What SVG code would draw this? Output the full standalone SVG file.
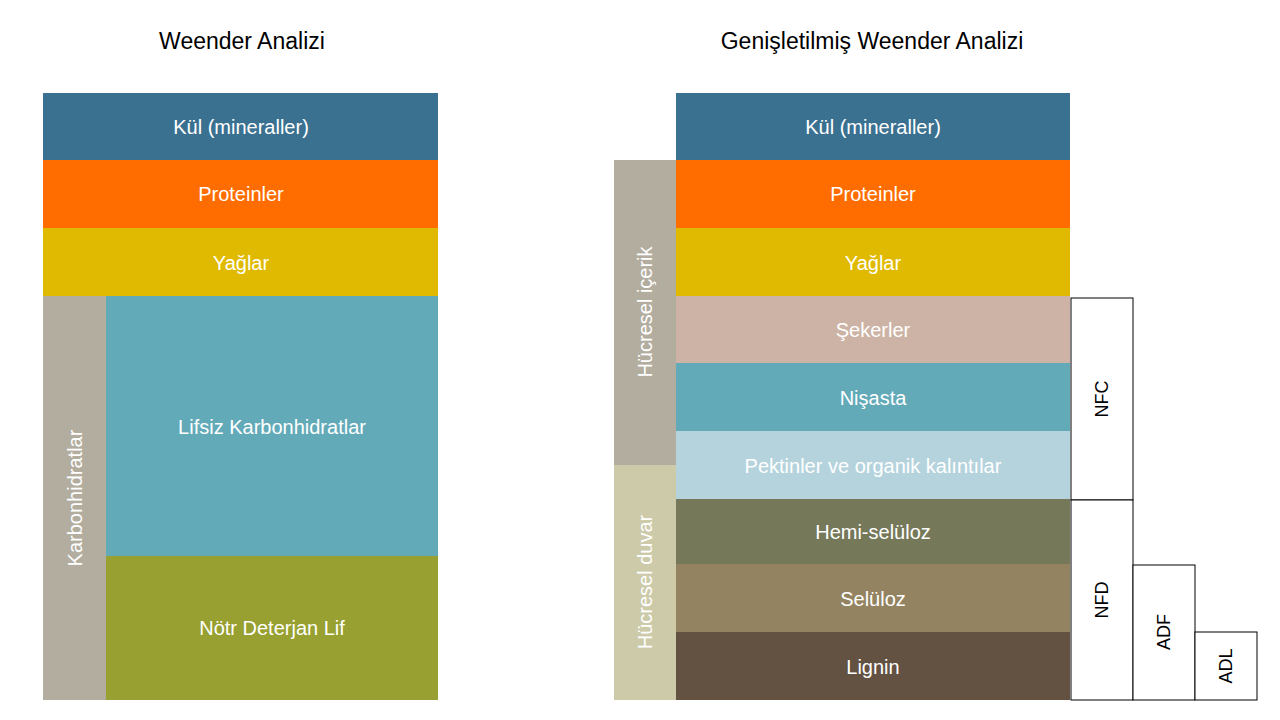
<svg xmlns="http://www.w3.org/2000/svg" width="1280" height="720" viewBox="0 0 1280 720">
<style>
text{font-family:"Liberation Sans",Arial,sans-serif;text-anchor:middle;dominant-baseline:central}
.t{font-size:23px;fill:#000}
.l{font-size:20px;fill:#fff}
.b{fill:#fff;stroke:#000;stroke-width:1}
.bl{font-size:18px;fill:#000}
</style>
<rect width="1280" height="720" fill="#fff"/>
<text class="t" x="242" y="41">Weender Analizi</text>
<text class="t" x="872" y="41">Genişletilmiş Weender Analizi</text>
<g id="left">
<g id="l-kul"><rect x="43" y="93" width="395" height="67" fill="#3b7190"/><text class="l" x="241" y="127">Kül (mineraller)</text></g>
<g id="l-prot"><rect x="43" y="160" width="395" height="68" fill="#ff6d00"/><text class="l" x="241" y="194">Proteinler</text></g>
<g id="l-yag"><rect x="43" y="228" width="395" height="68" fill="#dfba00"/><text class="l" x="241" y="263">Yağlar</text></g>
<g id="l-karb"><rect x="43" y="296" width="63" height="404" fill="#b3ad9f"/><text class="l" transform="translate(75 498) rotate(-90)">Karbonhidratlar</text></g>
<g id="l-lifsiz"><rect x="106" y="296" width="332" height="260" fill="#63aab9"/><text class="l" x="272" y="427">Lifsiz Karbonhidratlar</text></g>
<g id="l-notr"><rect x="106" y="556" width="332" height="144" fill="#97a030"/><text class="l" x="272" y="628">Nötr Deterjan Lif</text></g>
</g>
<g id="right">
<g id="r-kul"><rect x="676" y="93" width="394" height="67" fill="#3b7190"/><text class="l" x="873" y="127">Kül (mineraller)</text></g>
<g id="r-prot"><rect x="676" y="160" width="394" height="68" fill="#ff6d00"/><text class="l" x="873" y="194">Proteinler</text></g>
<g id="r-yag"><rect x="676" y="228" width="394" height="68" fill="#dfba00"/><text class="l" x="873" y="263">Yağlar</text></g>
<g id="r-seker"><rect x="676" y="296" width="394" height="67" fill="#cdb3a5"/><text class="l" x="873" y="330">Şekerler</text></g>
<g id="r-nisasta"><rect x="676" y="363" width="394" height="68" fill="#63aab9"/><text class="l" x="873" y="398">Nişasta</text></g>
<g id="r-pektin"><rect x="676" y="431" width="394" height="68" fill="#b5d3dd"/><text class="l" x="873" y="466">Pektinler ve organik kalıntılar</text></g>
<g id="r-hemi"><rect x="676" y="499" width="394" height="65" fill="#76785a"/><text class="l" x="873" y="532">Hemi-selüloz</text></g>
<g id="r-sel"><rect x="676" y="564" width="394" height="68" fill="#948360"/><text class="l" x="873" y="599">Selüloz</text></g>
<g id="r-lig"><rect x="676" y="632" width="394" height="68" fill="#635141"/><text class="l" x="873" y="667">Lignin</text></g>
<g id="r-icerik"><rect x="614" y="160" width="62" height="305" fill="#b3ad9f"/><text class="l" transform="translate(645 312) rotate(-90)">Hücresel içerik</text></g>
<g id="r-duvar"><rect x="614" y="465" width="62" height="235" fill="#cccaa9"/><text class="l" transform="translate(645 582) rotate(-90)">Hücresel duvar</text></g>
<g id="nfc"><rect class="b" x="1071" y="298" width="62" height="202"/><text class="bl" transform="translate(1102 399) rotate(-90)">NFC</text></g>
<g id="nfd"><rect class="b" x="1071" y="500" width="62" height="200"/><text class="bl" transform="translate(1102 600) rotate(-90)">NFD</text></g>
<g id="adf"><rect class="b" x="1133" y="565" width="62" height="135"/><text class="bl" transform="translate(1164 632) rotate(-90)">ADF</text></g>
<g id="adl"><rect class="b" x="1195" y="632" width="62" height="68"/><text class="bl" transform="translate(1226 666) rotate(-90)">ADL</text></g>
</g>
<g id="connectors"/>
</svg>
